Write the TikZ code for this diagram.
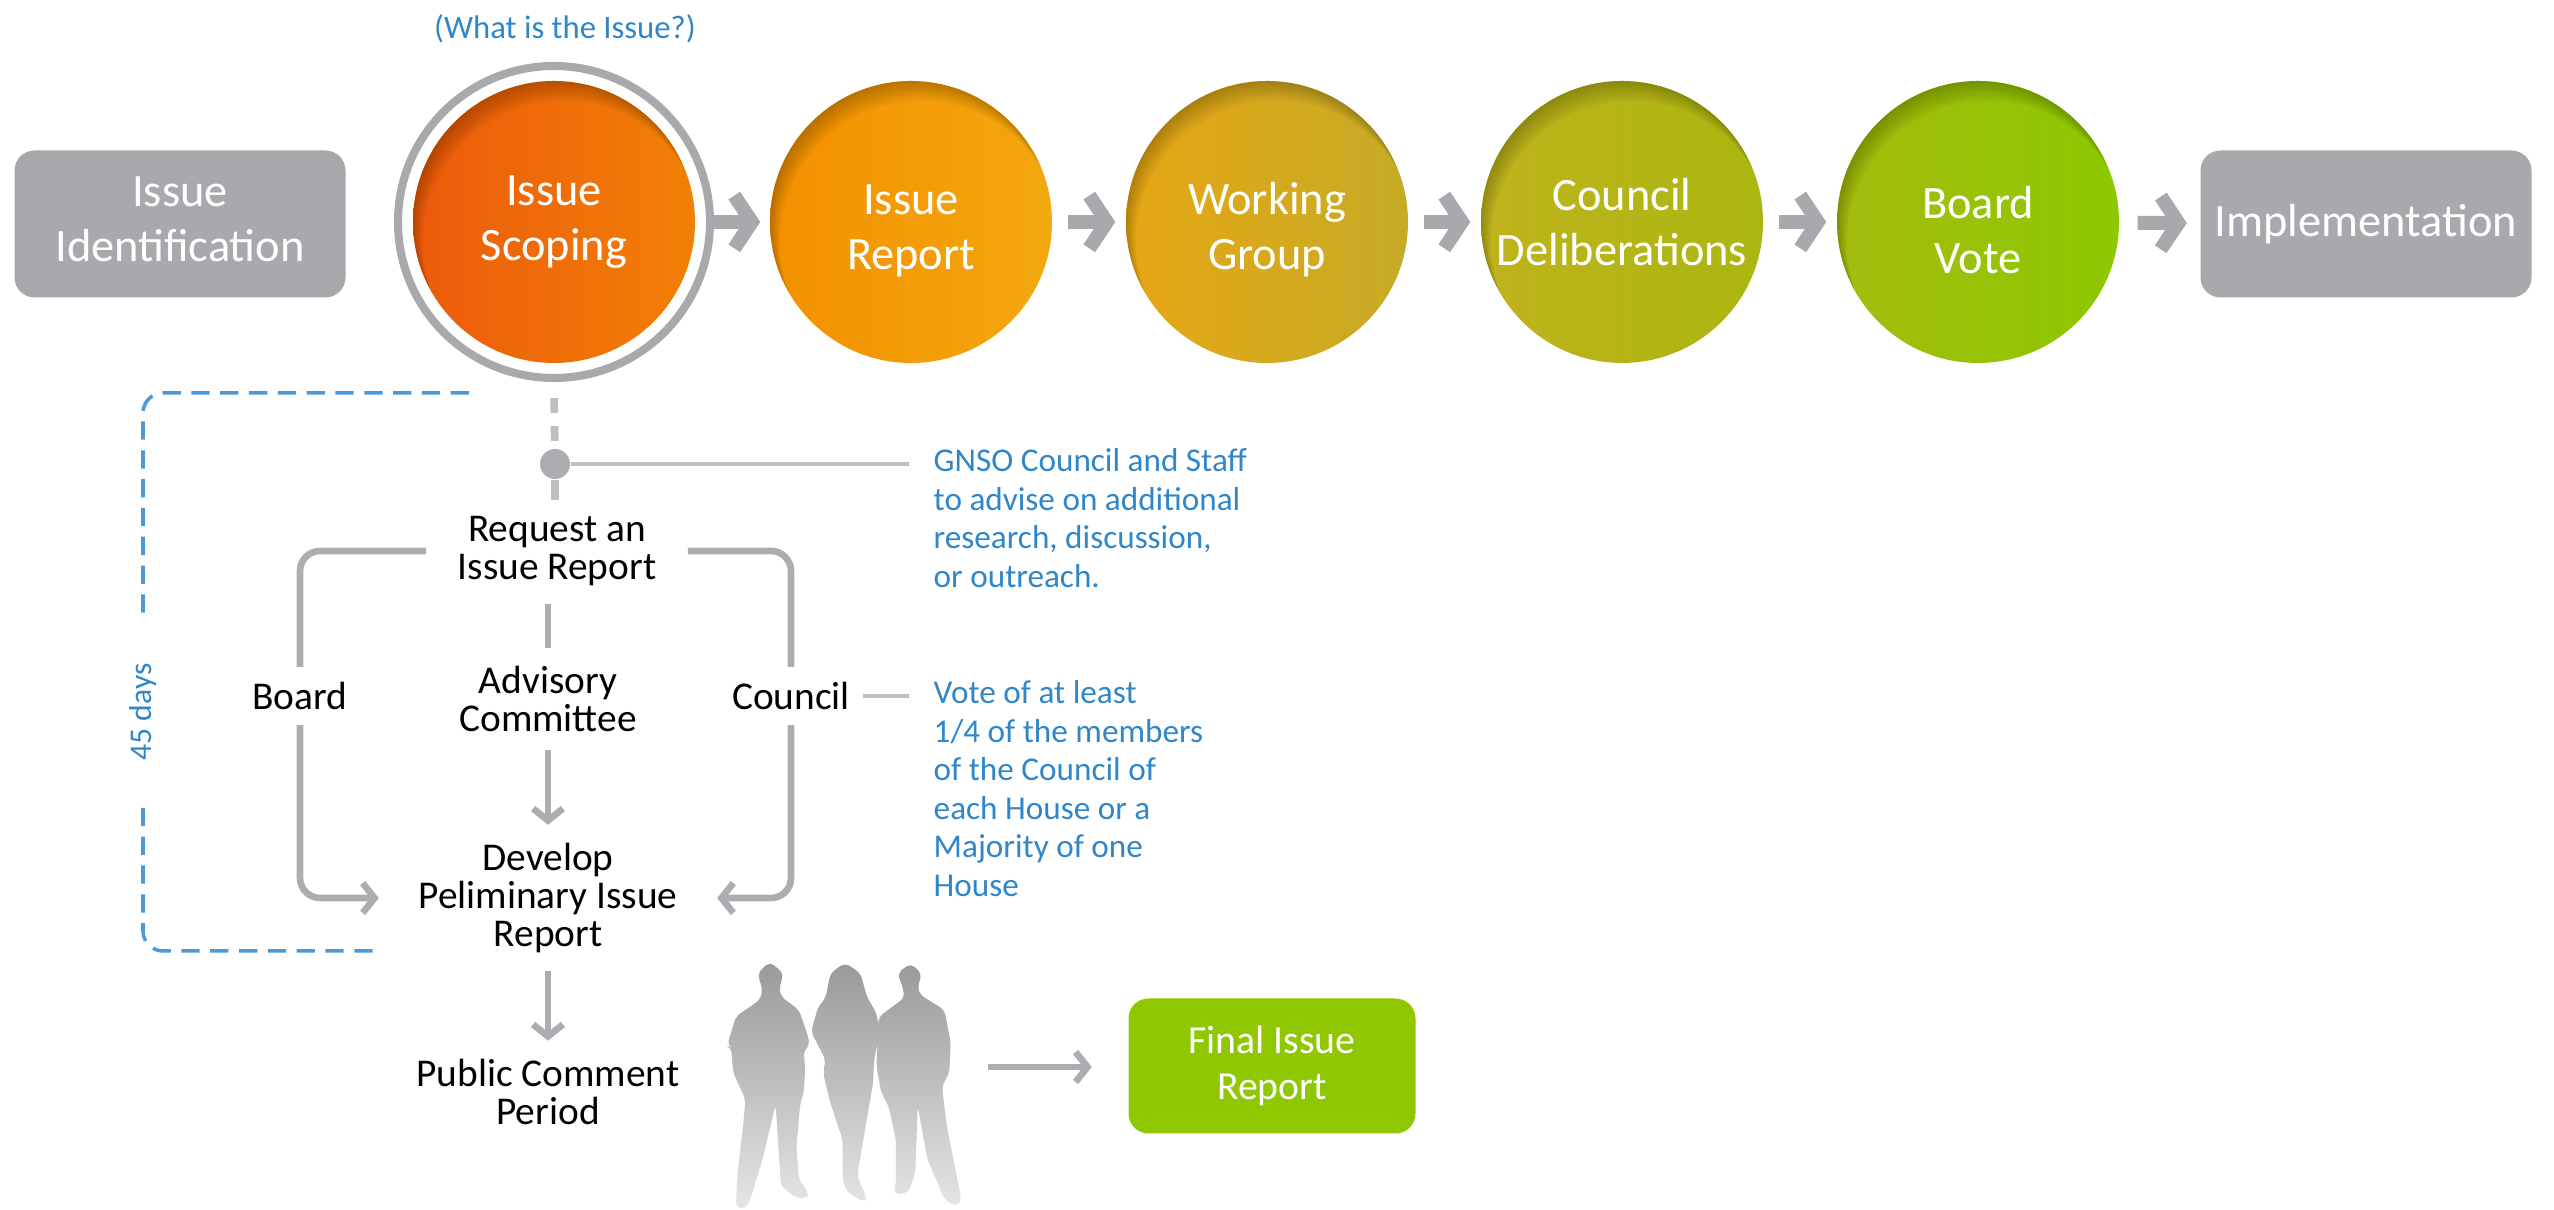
\documentclass[tikz,border=0pt]{standalone}
\usepackage{fontspec}
\setmainfont{Carlito}
\usetikzlibrary{arrows.meta}

\definecolor{boxgray}{HTML}{A7A9AC}
\definecolor{linegray}{HTML}{ABADB0}
\definecolor{palegray}{HTML}{BDBFC1}
\definecolor{noteblue}{HTML}{2F86C9}
\definecolor{dashblue}{HTML}{4A9ADA}
\definecolor{finalgreen}{HTML}{8FC800}
\definecolor{scopeleft}{HTML}{EC5A0C}
\definecolor{scoperight}{HTML}{F28005}
\definecolor{reportleft}{HTML}{F39000}
\definecolor{reportright}{HTML}{F3A80F}
\definecolor{groupleft}{HTML}{E6A714}
\definecolor{groupright}{HTML}{C6AB26}
\definecolor{councilleft}{HTML}{BFB31C}
\definecolor{councilright}{HTML}{ABB610}
\definecolor{voteleft}{HTML}{A4BC0E}
\definecolor{voteright}{HTML}{8CC800}

\tikzset{
    stage/.style={circle,minimum size=2.82cm,inner sep=0pt,text=white,align=center,
        font=\fontsize{13.2}{15.6}\selectfont,
        path picture={\foreach \d in {0.02,0.04,...,0.20}
            \fill[black,opacity=0.024,even odd rule] (path picture bounding box.center) circle (1.7cm)
                ([xshift=0.5*\d cm,yshift=-\d cm]path picture bounding box.center) circle (1.41cm);}},
    low stage/.style={stage,text height=1.03cm},
    endbox/.style={rectangle,rounded corners=0.2cm,fill=boxgray,text=white,align=center,
        minimum width=3.31cm,minimum height=1.47cm,inner sep=0pt,
        font=\fontsize{13.2}{15.6}\selectfont},
    step box/.style={align=center,text=black,inner xsep=0pt,inner ysep=0.18cm,
        font=\fontsize{11.2}{10.7}\selectfont},
    note/.style={align=left,text=noteblue,inner xsep=0.24cm,inner ysep=0pt,
        font=\fontsize{9.45}{10.95}\selectfont},
    bigarrow/.style={draw=boxgray,line width=4pt,-{Straight Barb[length=5pt,width=15pt,line width=4pt]}},
    flow/.style={draw=linegray,line width=1.9pt,rounded corners=0.2cm},
    flowarrow/.style={flow,-{Straight Barb[length=3.4pt,width=8.5pt]}},
    noteline/.style={draw=palegray,line width=1.2pt},
    daysline/.style={draw=dashblue,line width=1pt,dash pattern=on 5.2pt off 3pt,rounded corners=0.2cm}
}

\begin{document}
\begin{tikzpicture}
\useasboundingbox (0,0) rectangle (25.54,12.10);

% top row
\node[endbox,text depth=0.1cm] (identification) at (1.80,9.86) {Issue\\Identification};
\node[circle,draw=boxgray,line width=2.3pt,minimum size=3.12cm] (ring) at (5.54,9.88) {};
\node[stage,left color=scopeleft,right color=scoperight] (scoping) at (5.54,9.88) {Issue\\Scoping};
\node[low stage,left color=reportleft,right color=reportright] (report) at (9.11,9.88) {Issue\\Report};
\node[low stage,left color=groupleft,right color=groupright] (group) at (12.67,9.88) {Working\\Group};
\node[stage,left color=councilleft,right color=councilright] (deliberations) at (16.22,9.88) {Council\\Deliberations};
\node[low stage,left color=voteleft,right color=voteright] (vote) at (19.78,9.88) {Board\\Vote};
\node[endbox] (implementation) at (23.66,9.86) {Implementation};
\node[text=noteblue,font=\fontsize{9.3}{12}\selectfont] (question) at (5.65,11.81) {(What is the Issue?)};

\draw[bigarrow,shorten >=0.09cm] (ring) -- (report);
\draw[bigarrow,shorten <=0.15cm,shorten >=0.10cm] (report) -- (group);
\draw[bigarrow,shorten <=0.15cm,shorten >=0.10cm] (group) -- (deliberations);
\draw[bigarrow,shorten <=0.15cm,shorten >=0.10cm] (deliberations) -- (vote);
\draw[bigarrow,shorten <=0.18cm,shorten >=0.13cm] (vote) -- (implementation);

% the steps
\node[step box,inner xsep=0.31cm] (request) at (5.57,6.59) {Request an\\Issue Report};
\node[step box] (advisory) at (5.48,5.11) {Advisory\\Committee};
\node[step box,inner xsep=0.39cm] (develop) at (5.48,3.12) {Develop\\Peliminary Issue\\Report};
\node[step box] (comment) at (5.48,1.18) {Public Comment\\Period};
\node[step box,inner xsep=0pt,minimum height=0.57cm,inner ysep=0pt] (board) at (3.00,5.14) {Board};
\node[step box,inner xsep=0.12cm,minimum height=0.57cm,inner ysep=0pt] (council) at (7.91,5.14) {Council};
\node[circle,fill=linegray,inner sep=0pt,minimum size=0.30cm] (dot) at (5.55,7.46) {};

\node[note,anchor=north west] (advise) at (9.09,7.62) {GNSO Council and Staff\\to advise on additional\\research, discussion,\\or outreach.};
\node[note,anchor=north west] (members) at (9.09,5.30) {Vote of at least\\1/4 of the members\\of the Council of\\each House or a\\Majority of one\\House};
\node[endbox,fill=finalgreen,minimum width=2.87cm,minimum height=1.35cm,font=\fontsize{11.3}{13.3}\selectfont] (final) at (12.72,1.44) {Final Issue\\Report};

% connectors
\draw[draw=palegray,line width=2.2pt,dash pattern=on 4.2pt off 3.8pt,shorten <=0.16cm] (ring.south) -- (dot);
\draw[draw=palegray,line width=2.2pt] (dot) -- ++(0,-0.36);
\draw[noteline] (dot) -- (dot -| advise.west);
\draw[flow] (request.west) -| (board.north);
\draw[flowarrow] (board.south) |- (develop.west);
\draw[flow] (request.east) -| (council.north);
\draw[flowarrow] (council.south) |- (develop.east);
\draw[noteline] (council.east) -- (council.east -| members.west);
\draw[flow] (advisory.north |- request.south) -- (advisory.north);
\draw[flowarrow] (advisory) -- (develop);
\draw[flowarrow] (develop) -- (comment);

% 45 days
\node[rotate=90,text=noteblue,font=\fontsize{9}{12}\selectfont] (days) at (1.43,4.98) {45 days};
\coordinate (daystop) at (4.69,8.17);
\coordinate (daysbottom) at (3.80,2.59);
\draw[daysline,shorten >=0.38cm] (daystop) -| (days.east);
\draw[daysline,shorten <=0.35cm] (days.west) |- (daysbottom);

% people
\begin{scope}[shift={(6.80,2.50)},x=0.004847cm,y=-0.003333cm,rounded corners=1.5pt]
\shade[top color=black!40,middle color=black!33,bottom color=black!10]
    (185,5) -- (213,40) -- (205,85) -- (208,110) -- (245,150) -- (262,220) -- (268,258) -- (255,270) -- (258,330) -- (255,400) -- (248,430) -- (240,560) -- (245,660) -- (265,700) -- (262,718) -- (240,715) -- (208,680) -- (197,435) -- (170,600) -- (145,720) -- (135,748) -- (115,745) -- (118,650) -- (130,500) -- (135,420) -- (110,340) -- (105,262) -- (97,258) -- (115,170) -- (165,120) -- (170,90) -- (160,40) -- cycle
    (340,8) -- (372,40) -- (385,110) -- (405,160) -- (412,220) -- (400,300) -- (398,370) -- (385,480) -- (365,650) -- (385,715) -- (380,728) -- (345,700) -- (335,660) -- (335,540) -- (310,430) -- (295,340) -- (300,300) -- (270,215) -- (285,140) -- (300,115) -- (310,40) -- cycle
    (475,10) -- (498,40) -- (490,85) -- (495,105) -- (545,150) -- (558,250) -- (555,340) -- (540,380) -- (550,500) -- (580,720) -- (570,742) -- (545,720) -- (510,600) -- (490,440) -- (485,640) -- (470,700) -- (440,705) -- (445,670) -- (445,540) -- (430,440) -- (415,400) -- (405,320) -- (410,170) -- (462,115) -- (460,85) -- (448,40) -- cycle;
\end{scope}
\coordinate (peopleright) at (9.88,1.43);
\draw[flowarrow,shorten >=0.36cm] (peopleright) -- (peopleright -| final.west);
\end{tikzpicture}
\end{document}
